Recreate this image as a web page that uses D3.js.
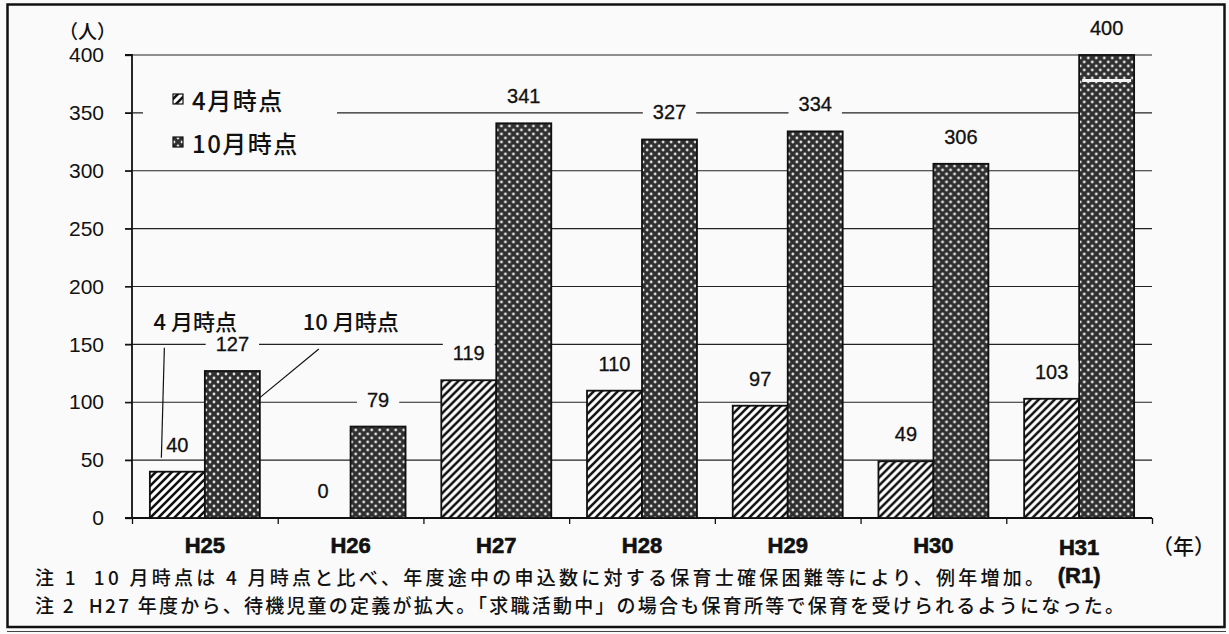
<!DOCTYPE html>
<html><head><meta charset="utf-8">
<script src="https://cdn.jsdelivr.net/npm/d3@7"></script>
<style>body{margin:0;background:#fafafa}</style>
</head><body><svg id="c" width="1229" height="634"></svg>
<script>
const categories = ["H25","H26","H27","H28","H29","H30","H31"];
const categorySub = ["","","","","","","(R1)"];
const seriesNames = ["4月時点","10月時点"];
const aprilValues = [40,0,119,110,97,49,103];
const octoberValues = [127,79,341,327,334,306,400];
const yTicks = [0,50,100,150,200,250,300,350,400];
const notes = [
  "注 1  10 月時点は 4 月時点と比べ、年度途中の申込数に対する保育士確保困難等により、例年増加。",
  "注 2  H27 年度から、待機児童の定義が拡大。「求職活動中」の場合も保育所等で保育を受けられるようになった。"
];
const annoLabels = ["4 月時点","10 月時点"];
const breakMarkValue = 378;

const svg = d3.select("#c");
const W = 1229, H = 634;
const plotL = 132, plotR = 1152, plotT = 55, plotB = 518;
const JP = "'Noto Sans CJK JP', sans-serif";
const LAT = "'Liberation Sans', Arial, sans-serif";
const BG = "#fafafa";

svg.append("rect").attr("width", W).attr("height", H).attr("fill", BG);

const defs = svg.append("defs");
const hatch = defs.append("pattern").attr("id","hatch").attr("patternUnits","userSpaceOnUse")
  .attr("width",8).attr("height",8);
hatch.append("rect").attr("width",8).attr("height",8).attr("fill","#fff");
hatch.append("path").attr("d","M-2,2 l4,-4 M0,8 l8,-8 M6,10 l4,-4").attr("stroke","#111").attr("stroke-width",2.6);
const dots = defs.append("pattern").attr("id","dots").attr("patternUnits","userSpaceOnUse")
  .attr("width",8).attr("height",8);
dots.append("rect").attr("width",8).attr("height",8).attr("fill","#303030");
dots.append("circle").attr("cx",2).attr("cy",2).attr("r",1.4).attr("fill","#e2e2e2");
dots.append("circle").attr("cx",6).attr("cy",6).attr("r",1.4).attr("fill","#e2e2e2");
const fills = ["url(#hatch)","url(#dots)"];

const x0 = d3.scaleBand().domain(categories).range([plotL, plotR]).padding(0);
const x1 = d3.scaleBand().domain(seriesNames).range([0, x0.bandwidth()]).paddingInner(0).paddingOuter(0.325);
const y = d3.scaleLinear().domain([0, 400]).range([plotB, plotT]);

// outer frame
svg.append("rect").attr("x",7.5).attr("y",4.5).attr("width",1217).attr("height",622.5)
  .attr("fill","none").attr("stroke","#111").attr("stroke-width",2.5);
svg.append("line").attr("x1",7).attr("x2",1226).attr("y1",631.5).attr("y2",631.5)
  .attr("stroke","#444").attr("stroke-width",1.2);

// gridlines
svg.append("g").selectAll("line").data(yTicks.filter(d => d > 0)).join("line")
  .attr("x1", plotL - 7).attr("x2", plotR).attr("y1", d => y(d)).attr("y2", d => y(d))
  .attr("stroke","#222").attr("stroke-width",1.1);

// y axis
const yAxis = svg.append("g").attr("transform",`translate(${plotL},0)`)
  .call(d3.axisLeft(y).tickValues(yTicks).tickSize(7).tickPadding(21));
yAxis.select(".domain").attr("stroke","#111").attr("stroke-width",1.8).attr("d",`M-7,${plotT}H0V${plotB}`);
yAxis.selectAll(".tick line").attr("stroke","#111").attr("stroke-width",1.3);
yAxis.selectAll(".tick text").attr("font-family",LAT).attr("font-size",21).attr("fill","#111");

// x axis
const xAxis = svg.append("g").attr("transform",`translate(0,${plotB})`)
  .call(d3.axisBottom(d3.scalePoint().domain(d3.range(categories.length + 1)).range([plotL, plotR])).tickSize(6).tickFormat(""));
xAxis.select(".domain").attr("stroke","#111").attr("stroke-width",1.8).attr("d",`M${plotL-7},0H${plotR}`);
xAxis.selectAll(".tick line").attr("stroke","#111").attr("stroke-width",1.3);

// legend box (covers gridline)
svg.append("rect").attr("x",143).attr("y",68).attr("width",194).attr("height",92).attr("fill",BG);

// bars
const rows = categories.map((c, i) => ({cat: c, vals: [aprilValues[i], octoberValues[i]]}));
const g = svg.append("g").selectAll("g").data(rows).join("g")
  .attr("transform", d => `translate(${x0(d.cat)},0)`);
g.selectAll("rect").data(d => d.vals.map((v, k) => ({k, v}))).join("rect")
  .attr("x", d => x1(seriesNames[d.k])).attr("width", x1.bandwidth())
  .attr("y", d => y(d.v)).attr("height", d => plotB - y(d.v))
  .attr("fill", d => fills[d.k]).attr("stroke", d => d.v > 0 ? "#111" : "none").attr("stroke-width",1.8);

// break mark on last bar
const lastCat = categories[categories.length - 1];
svg.append("line")
  .attr("x1", x0(lastCat) + x1(seriesNames[1]) + 3).attr("x2", x0(lastCat) + x1(seriesNames[1]) + x1.bandwidth() - 3)
  .attr("y1", y(breakMarkValue)).attr("y2", y(breakMarkValue))
  .attr("stroke","#f4f4f4").attr("stroke-width",3);

// value labels
const labG = svg.append("g");
rows.forEach(r => r.vals.forEach((v, k) => {
  const cx = x0(r.cat) + x1(seriesNames[k]) + x1.bandwidth() / 2;
  const cy = y(v) - 27;
  const t = labG.append("text").attr("x", cx).attr("y", cy).attr("text-anchor","middle")
    .attr("dominant-baseline","central").attr("font-family",LAT).attr("font-size",20)
    .attr("fill","#111").attr("stroke","#111").attr("stroke-width",0.3).text(v);
  const w = t.node().getComputedTextLength();
  labG.insert("rect", () => t.node()).attr("x", cx - w/2 - 10).attr("y", cy - 11).attr("width", w + 20).attr("height", 22).attr("fill",BG);
}));

// category labels
svg.append("g").selectAll("text").data(categories).join("text")
  .attr("x", d => x0(d) + x0.bandwidth()/2)
  .attr("y", (d, i) => categorySub[i] ? 547 : 545)
  .attr("text-anchor","middle").attr("dominant-baseline","central")
  .attr("font-family",LAT).attr("font-weight","bold").attr("font-size",22)
  .attr("fill","#111").attr("stroke","#111").attr("stroke-width",0.6).text(d => d);
svg.append("g").selectAll("text").data(categorySub).join("text")
  .attr("x", (d, i) => x0(categories[i]) + x0.bandwidth()/2).attr("y", 575)
  .attr("text-anchor","middle").attr("dominant-baseline","central")
  .attr("font-family",LAT).attr("font-weight","bold").attr("font-size",22)
  .attr("fill","#111").attr("stroke","#111").attr("stroke-width",0.6).text(d => d);

// axis unit labels
svg.append("text").attr("x",59).attr("y",30).attr("dominant-baseline","central")
  .attr("font-family",JP).attr("font-weight",500).attr("font-size",19).attr("fill","#111").text("（人）");
svg.append("text").attr("x",1152).attr("y",545).attr("dominant-baseline","central")
  .attr("font-family",JP).attr("font-weight",500).attr("font-size",21).attr("fill","#111").text("（年）");

// legend
const legY = [99, 142];
seriesNames.forEach((s, k) => {
  svg.append("rect").attr("x",173).attr("y",legY[k]-5).attr("width",10).attr("height",10)
    .attr("fill",fills[k]).attr("stroke","#111").attr("stroke-width",1.2);
  svg.append("text").attr("x",192).attr("y",legY[k]).attr("dominant-baseline","central")
    .attr("font-family",JP).attr("font-weight",500).attr("font-size",24).attr("letter-spacing",1.5).attr("fill","#111").text(s);
});

// annotations with leader lines
const c0 = categories[0];
const aprX = x0(c0) + x1(seriesNames[0]) + x1.bandwidth()/2;
const octR = x0(c0) + x1(seriesNames[1]) + x1.bandwidth();
svg.append("text").attr("x", aprX + 18).attr("y", y(171)).attr("text-anchor","middle").attr("dominant-baseline","central")
  .attr("font-family",JP).attr("font-weight",500).attr("font-size",22).attr("fill","#111").text(annoLabels[0]);
svg.append("text").attr("x", octR + 91).attr("y", y(171)).attr("text-anchor","middle").attr("dominant-baseline","central")
  .attr("font-family",JP).attr("font-weight",500).attr("font-size",22).attr("fill","#111").text(annoLabels[1]);
svg.append("line").attr("x1", aprX - 13).attr("y1", y(147)).attr("x2", aprX - 16).attr("y2", y(52))
  .attr("stroke","#111").attr("stroke-width",1.2);
svg.append("line").attr("x1", octR + 59).attr("y1", y(146)).attr("x2", octR).attr("y2", y(104))
  .attr("stroke","#111").attr("stroke-width",1.2);

// notes
const noteEnds = [1044, 1124];
notes.forEach((n, i) => {
  svg.append("text").attr("x",35).attr("y", 576 + i*28).attr("dominant-baseline","central")
    .style("white-space","pre")
    .attr("font-family",JP).attr("font-weight",500).attr("font-size",19).attr("fill","#111")
    .attr("textLength", noteEnds[i] - 35).attr("lengthAdjust","spacing").text(n);
});
</script></body></html>
